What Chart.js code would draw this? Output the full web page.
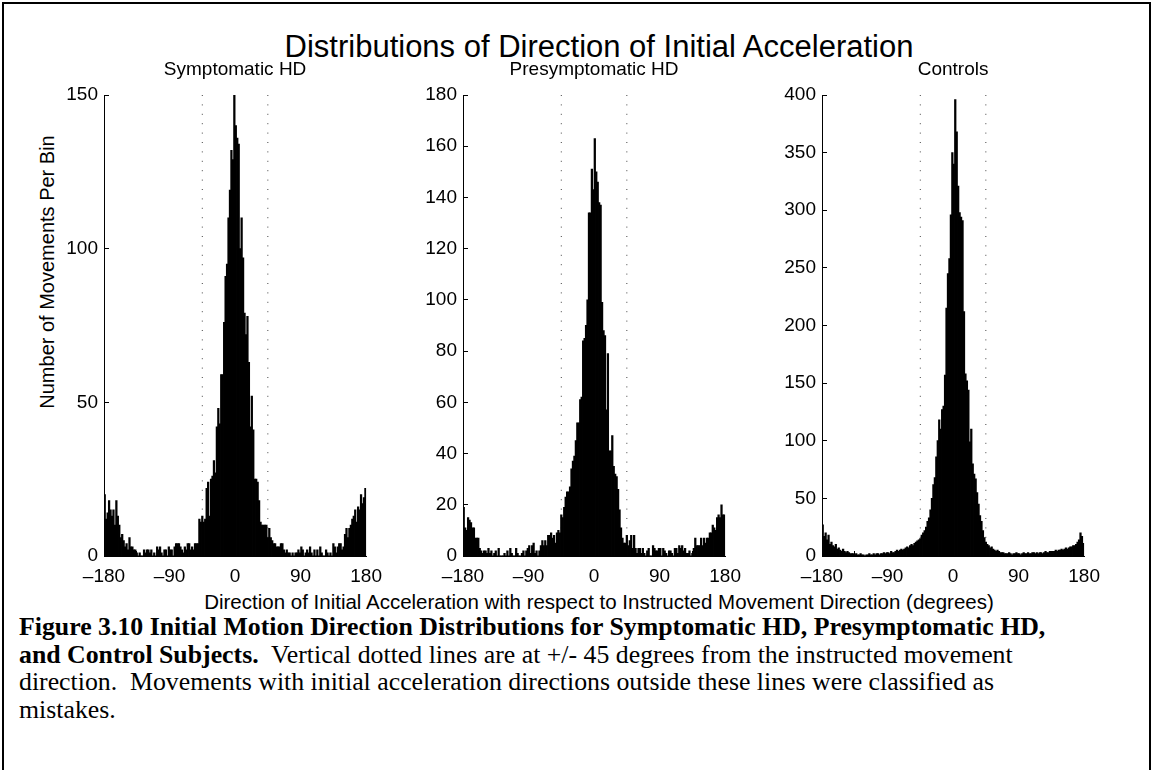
<!DOCTYPE html>
<html>
<head>
<meta charset="utf-8">
<title>Distributions of Direction of Initial Acceleration</title>
<script src="https://cdn.jsdelivr.net/npm/chart.js@4.4.1/dist/chart.umd.min.js"></script>
<style>
  html, body { margin: 0; padding: 0; background: #fff; }
  body { width: 1153px; height: 770px; position: relative; overflow: hidden;
         font-family: "Liberation Sans", Arial, sans-serif; color: #000; }
  #frame { position: absolute; left: 2px; top: 2px; width: 1145px; height: 820px; border: 2px solid #000; }
  .panel { position: absolute; top: 50px; }
  #mainTitle { position: absolute; left: 99px; width: 1000px; top: 29px; text-align: center;
               font-size: 31px; line-height: 36px; white-space: nowrap; }
  #xLabel { position: absolute; left: 99px; width: 1000px; top: 590px; text-align: center;
            font-size: 20.5px; line-height: 24px; white-space: nowrap; }
  #yLabel { position: absolute; left: -153px; top: 260px; width: 400px; height: 24px; text-align: center;
            font-size: 20px; line-height: 24px; white-space: nowrap; transform: rotate(-90deg); }
  #caption { position: absolute; left: 19px; top: 613px; font-family: "Liberation Serif", "Times New Roman", serif;
             font-size: 25.8px; line-height: 27.5px; white-space: nowrap; }
</style>
</head>
<body>
<div id="frame"></div>
<div id="mainTitle">Distributions of Direction of Initial Acceleration</div>
<div id="yLabel">Number of Movements Per Bin</div>
<canvas id="panel1" class="panel" width="362" height="536" style="left:34px"></canvas>
<canvas id="panel2" class="panel" width="362" height="536" style="left:393px"></canvas>
<canvas id="panel3" class="panel" width="362" height="536" style="left:752px"></canvas>
<div id="xLabel">Direction of Initial Acceleration with respect to Instructed Movement Direction (degrees)</div>
<div id="caption"><b>Figure 3.10 Initial Motion Direction Distributions for Symptomatic HD, Presymptomatic HD,</b><br><b>and Control Subjects.</b>&nbsp; Vertical dotted lines are at +/- 45 degrees from the instructed movement<br>direction.&nbsp; Movements with initial acceleration directions outside these lines were classified as<br>mistakes.</div>

<script>
// 2-degree bins from -180 to 180 (bin centres)
const binWidth = 2;
const binCenters = Array.from({ length: 180 }, (_, i) => -180 + binWidth / 2 + i * binWidth);

// counts per bin
const symptomaticCounts = [
  20, 12, 14, 18, 15, 13, 15, 10, 18, 13, 10, 6, 7, 5, 3, 4, 2, 6, 3, 3,
  2, 2, 1, 0, 1, 0, 0, 2, 1, 2, 2, 1, 2, 0, 1, 0, 3, 2, 3, 1,
  0, 2, 2, 0, 3, 2, 2, 0, 3, 4, 4, 4, 3, 2, 1, 3, 2, 4, 4, 2,
  3, 2, 4, 4, 4, 12, 11, 13, 11, 12, 22, 24, 13, 25, 26, 31, 27, 42, 48, 43,
  59, 59, 76, 91, 95, 110, 119, 132, 129, 150, 140, 136, 134, 100, 110, 97, 79, 72, 78, 63,
  42, 52, 41, 25, 25, 24, 18, 11, 10, 10, 10, 10, 6, 9, 6, 5, 4, 4, 3, 3,
  3, 4, 4, 2, 1, 2, 1, 1, 0, 1, 0, 1, 1, 2, 1, 3, 2, 0, 1, 2,
  1, 3, 1, 0, 2, 0, 2, 0, 3, 1, 0, 0, 2, 1, 0, 1, 0, 4, 3, 1,
  3, 4, 4, 2, 3, 7, 9, 6, 9, 10, 12, 13, 15, 11, 16, 15, 20, 17, 19, 22
];
const presymptomaticCounts = [
  19, 11, 10, 15, 14, 13, 11, 11, 7, 7, 7, 3, 2, 1, 2, 2, 1, 3, 1, 2,
  0, 1, 2, 0, 3, 0, 0, 0, 1, 0, 2, 0, 3, 1, 0, 0, 3, 1, 0, 0,
  1, 2, 0, 2, 3, 4, 1, 4, 5, 1, 2, 0, 2, 4, 6, 4, 6, 4, 8, 8,
  9, 7, 8, 5, 9, 10, 9, 16, 15, 19, 23, 25, 25, 27, 34, 37, 39, 45, 52, 52,
  61, 62, 84, 85, 90, 100, 134, 134, 151, 143, 163, 150, 146, 138, 137, 99, 88, 86, 57, 79,
  41, 41, 47, 35, 32, 31, 26, 18, 11, 7, 5, 5, 8, 4, 6, 8, 3, 8, 3, 1,
  3, 3, 1, 3, 1, 0, 2, 3, 0, 0, 4, 3, 2, 2, 3, 3, 0, 3, 2, 1,
  0, 2, 2, 1, 0, 3, 3, 1, 4, 3, 4, 2, 3, 1, 1, 2, 0, 1, 3, 7,
  4, 4, 4, 7, 4, 7, 5, 7, 7, 9, 9, 12, 11, 10, 15, 16, 15, 20, 16, 16
];
const controlCounts = [
  27, 17, 20, 14, 18, 10, 12, 9, 8, 10, 6, 7, 5, 4, 6, 4, 3, 4, 3, 2,
  2, 2, 1, 2, 1, 1, 2, 1, 1, 0, 1, 1, 2, 1, 1, 2, 1, 2, 2, 1,
  2, 2, 3, 2, 3, 3, 2, 4, 3, 3, 4, 5, 4, 5, 6, 5, 6, 7, 8, 7,
  9, 10, 9, 11, 12, 13, 14, 15, 18, 20, 22, 25, 30, 33, 40, 50, 62, 68, 86, 100,
  118, 110, 127, 130, 157, 215, 245, 258, 296, 350, 340, 396, 368, 321, 298, 294, 291, 212, 158, 152,
  144, 99, 110, 80, 71, 67, 55, 45, 35, 30, 22, 16, 12, 10, 9, 7, 8, 6, 5, 4,
  5, 4, 3, 3, 3, 2, 2, 2, 3, 2, 1, 2, 2, 3, 2, 2, 1, 2, 3, 2,
  2, 3, 2, 2, 3, 3, 2, 3, 2, 3, 3, 2, 3, 4, 3, 3, 4, 3, 4, 4,
  5, 4, 5, 5, 6, 5, 6, 7, 6, 7, 8, 8, 9, 9, 10, 12, 14, 20, 17, 11
];

// axes
const xTicks = [-180, -90, 0, 90, 180];
const xTickLabels = ['\u2013180', '\u201390', '0', '90', '180'];
const yTicksSymptomatic = [0, 50, 100, 150];
const yTicksPresymptomatic = [0, 20, 40, 60, 80, 100, 120, 140, 160, 180];
const yTicksControls = [0, 50, 100, 150, 200, 250, 300, 350, 400];

// +/- 45 degree guide lines
const guideLines = [-45, 45];

const tickFont = { family: '"Liberation Sans", Arial, sans-serif', size: 19 };

/**
 * Builds one histogram panel on its own canvas.
 */
function makePanel(canvasId, subtitle, counts, yTicks) {
    const yMax = yTicks[yTicks.length - 1];

    const guideSets = guideLines.map(g => ({
        type: 'line',
        data: [{ x: g, y: yMax }, { x: g, y: 0 }],
        borderColor: '#444',
        borderWidth: 1,
        borderDash: [1, 8.4],
        pointRadius: 0,
        fill: false,
        order: 2
    }));

    return new Chart(document.getElementById(canvasId), {
        type: 'bar',
        data: {
            datasets: [{
                type: 'bar',
                data: binCenters.map((x, i) => ({ x: x, y: counts[i] })),
                backgroundColor: '#000',
                borderWidth: 0,
                barPercentage: 1,
                categoryPercentage: 1,
                inflateAmount: 0.4, // keeps thin tail bars solid black
                order: 1
            }, ...guideSets]
        },
        options: {
            responsive: false,
            animation: false,
            devicePixelRatio: 1,
            layout: { padding: { top: 8.6, right: 20, bottom: 0, left: 0 } },
            plugins: {
                legend: { display: false },
                tooltip: { enabled: false },
                title: {
                    display: true,
                    text: subtitle,
                    fullSize: false,
                    color: '#000',
                    font: { family: tickFont.family, size: 19, weight: 'normal' },
                    padding: { top: 0, bottom: 13.6 }
                }
            },
            scales: {
                x: {
                    type: 'linear',
                    min: -180,
                    max: 180,
                    offset: false,
                    afterBuildTicks: scale => { scale.ticks = xTicks.map(v => ({ value: v })); },
                    afterFit: scale => { scale.height = 30; },
                    ticks: {
                        autoSkip: false,
                        maxRotation: 0,
                        color: '#000',
                        font: tickFont,
                        padding: 14,
                        callback: value => xTickLabels[xTicks.indexOf(value)]
                    },
                    grid: { drawOnChartArea: false, tickLength: -5, color: '#000' },
                    border: { display: true, color: '#000', width: 1 }
                },
                y: {
                    min: 0,
                    max: yMax,
                    afterBuildTicks: scale => { scale.ticks = yTicks.map(v => ({ value: v })); },
                    afterFit: scale => { scale.width = 70; },
                    ticks: { color: '#000', font: tickFont, padding: 11 },
                    grid: { drawOnChartArea: false, tickLength: -5, color: '#000' },
                    border: { display: true, color: '#000', width: 1 }
                }
            }
        }
    });
}

makePanel('panel1', 'Symptomatic HD', symptomaticCounts, yTicksSymptomatic);
makePanel('panel2', 'Presymptomatic HD', presymptomaticCounts, yTicksPresymptomatic);
makePanel('panel3', 'Controls', controlCounts, yTicksControls);
</script>
</body>
</html>
